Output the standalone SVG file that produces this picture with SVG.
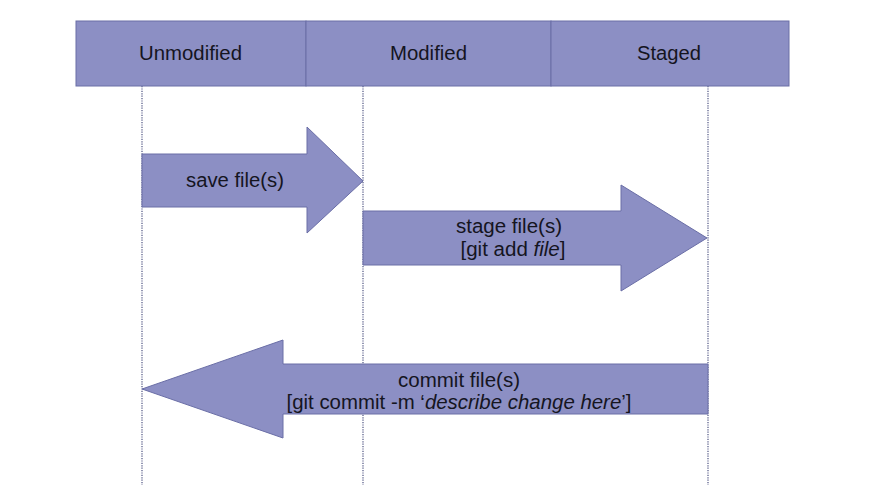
<svg xmlns="http://www.w3.org/2000/svg" width="885" height="485" viewBox="0 0 885 485">
<style>
.box{fill:#8c8fc4;stroke:#6a6ea6;stroke-width:1}
.arrow{fill:#8c8fc4;stroke:#6a6ea6;stroke-width:1}
.life{stroke:#4d5280;stroke-width:1.2;stroke-dasharray:1.2 1.2;fill:none}
text{font-family:"Liberation Sans",Arial,sans-serif;font-size:19.5px;fill:#15151f;text-anchor:middle}
</style>
<rect width="885" height="485" fill="#ffffff"/>
<g id="lifelines">
<line class="life" x1="142" y1="86" x2="142" y2="485"/>
<line class="life" x1="363" y1="86" x2="363" y2="485"/>
<line class="life" x1="708" y1="86" x2="708" y2="485"/>
</g>
<g id="unmodified">
<rect class="box" x="76" y="21" width="230" height="65"/>
<text x="190.5" y="60" textLength="103" lengthAdjust="spacingAndGlyphs">Unmodified</text>
</g>
<g id="modified">
<rect class="box" x="306" y="21" width="245" height="65"/>
<text x="428.5" y="60" textLength="77" lengthAdjust="spacingAndGlyphs">Modified</text>
</g>
<g id="staged">
<rect class="box" x="551" y="21" width="238" height="65"/>
<text x="669" y="60" textLength="64" lengthAdjust="spacingAndGlyphs">Staged</text>
</g>
<g id="connectors">
<g id="save">
<polygon class="arrow" points="142,154 307,154 307,127 363,181 307,233 307,207 142,207"/>
<text x="235" y="187" textLength="98" lengthAdjust="spacingAndGlyphs">save file(s)</text>
</g>
<g id="stage">
<polygon class="arrow" points="363,211 621,211 621,185 707,238 621,291 621,265 363,265"/>
<text x="509" y="233" textLength="106" lengthAdjust="spacingAndGlyphs">stage file(s)</text>
<text x="513" y="256" textLength="105" lengthAdjust="spacingAndGlyphs">[git add <tspan font-style="italic">file</tspan>]</text>
</g>
<g id="commit">
<polygon class="arrow" points="708,364 283,364 283,340 142,389 283,438 283,414 708,414"/>
<text x="459" y="387" textLength="122" lengthAdjust="spacingAndGlyphs">commit file(s)</text>
<text x="459" y="409" textLength="345" lengthAdjust="spacingAndGlyphs">[git commit -m ‘<tspan font-style="italic">describe change here</tspan>’]</text>
</g>
</g>
</svg>
